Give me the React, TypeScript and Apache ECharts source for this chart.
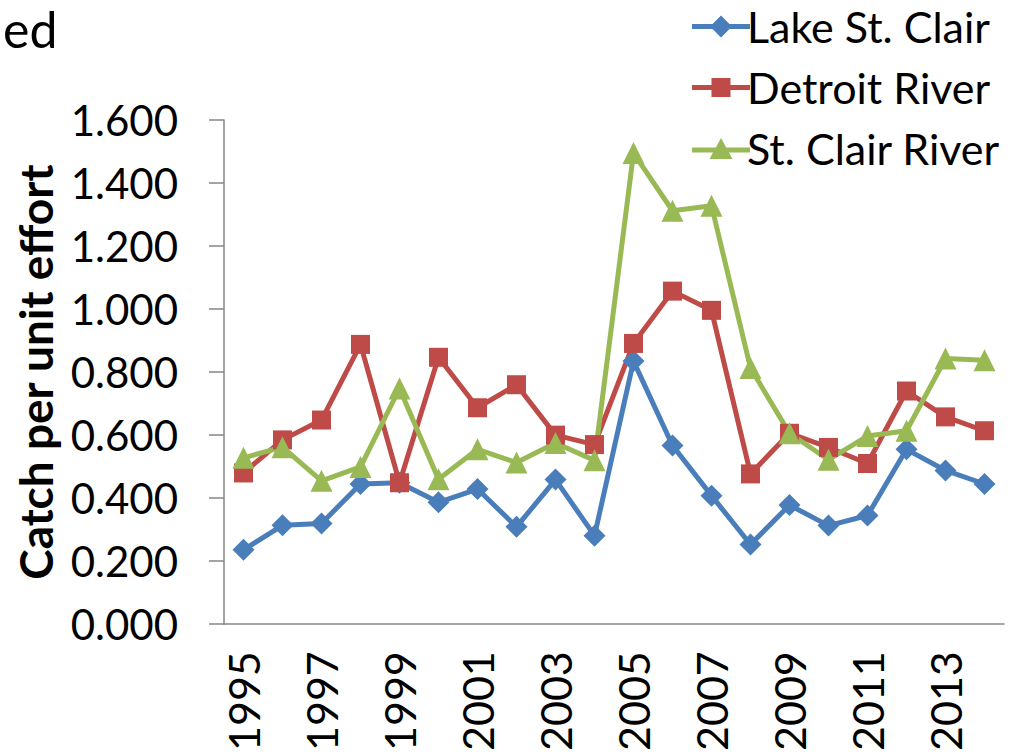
import React, { useEffect, useRef } from "react";
import * as echarts from "echarts";

const years = [
  "1995", "1996", "1997", "1998", "1999", "2000", "2001", "2002", "2003", "2004",
  "2005", "2006", "2007", "2008", "2009", "2010", "2011", "2012", "2013", "2014",
];
const lakeStClair = [
  0.236, 0.314, 0.32, 0.445, 0.449, 0.387, 0.429, 0.309, 0.459, 0.281,
  0.835, 0.567, 0.408, 0.253, 0.378, 0.313, 0.345, 0.555, 0.488, 0.445,
];
const detroitRiver = [
  0.48, 0.585, 0.648, 0.888, 0.449, 0.847, 0.687, 0.76, 0.6, 0.57,
  0.891, 1.057, 0.996, 0.477, 0.606, 0.561, 0.51, 0.74, 0.658, 0.614,
];
const stClairRiver = [
  0.528, 0.562, 0.455, 0.499, 0.748, 0.46, 0.555, 0.513, 0.575, 0.52,
  1.495, 1.312, 1.328, 0.813, 0.606, 0.522, 0.597, 0.614, 0.843, 0.838,
];
const yTicks = { min: 0, max: 1.6, interval: 0.2 };

const FONT = "Lato";

const ICON_DIAMOND = "path://M0,8.5H58V13.5H0Z M29,0L40,11L29,22L18,11Z";
const ICON_SQUARE = "path://M0,8.5H58V13.5H0Z M19.5,1.5H38.5V20.5H19.5Z";
const ICON_TRIANGLE = "path://M0,9.5H58V14.5H0Z M29,0L40.5,21L17.5,21Z";

export default function App() {
  const ref = useRef<HTMLDivElement>(null);
  useEffect(() => {
    if (!ref.current) return;
    const chart = echarts.init(ref.current, undefined, { renderer: "svg" });
    const mk = (name: string, data: number[], color: string, symbol: string, size: number) => ({
      name,
      type: "line",
      data,
      symbol,
      symbolSize: size,
      lineStyle: { color, width: 5 },
      itemStyle: { color },
      z: 3,
    });
    chart.setOption({
      animation: false,
      textStyle: { fontFamily: FONT },
      graphic: [
        {
          type: "text",
          left: 3,
          top: 4,
          style: { text: "ed", fontSize: 50, fontFamily: FONT, fill: "#000" },
        },
      ],
      legend: {
        orient: "vertical",
        left: 687,
        top: 0,
        itemWidth: 58,
        itemHeight: 22,
        itemGap: 18,
        textStyle: { fontSize: 43, color: "#000", fontFamily: FONT, padding: [0, 0, 0, -8] },
        data: [
          { name: "Lake St. Clair", icon: ICON_DIAMOND },
          { name: "Detroit River", icon: ICON_SQUARE },
          { name: "St. Clair River", icon: ICON_TRIANGLE },
        ],
      },
      grid: { left: 224, right: 15, top: 120, bottom: 126, containLabel: false },
      xAxis: {
        type: "category",
        data: years,
        boundaryGap: true,
        axisLine: { lineStyle: { color: "#868686", width: 1.5 } },
        axisTick: { interval: 0, length: 15, lineStyle: { color: "#868686", width: 1.5 } },
        axisLabel: {
          interval: 1,
          rotate: 90,
          margin: 27,
          fontSize: 43,
          color: "#000",
          fontFamily: FONT,
        },
      },
      yAxis: {
        type: "value",
        min: yTicks.min,
        max: yTicks.max,
        interval: yTicks.interval,
        name: "Catch per unit effort",
        nameLocation: "middle",
        nameRotate: 90,
        nameGap: 166,
        nameTextStyle: { fontSize: 46, fontWeight: "bold", color: "#000", fontFamily: FONT },
        axisLine: { show: true, lineStyle: { color: "#868686", width: 1.5 } },
        axisTick: { show: true, length: 15, lineStyle: { color: "#868686", width: 1.5 } },
        splitLine: { show: false },
        axisLabel: {
          margin: 46,
          fontSize: 42,
          color: "#000",
          fontFamily: FONT,
          formatter: (v: number) => v.toFixed(3),
        },
      },
      series: [
        mk("Lake St. Clair", lakeStClair, "#4A7EBB", "diamond", 22),
        mk("Detroit River", detroitRiver, "#BE4B48", "rect", 19),
        mk("St. Clair River", stClairRiver, "#98B954", "triangle", 22),
      ],
    });
    return () => chart.dispose();
  }, []);
  return <div ref={ref} style={{ width: 1019, height: 754, position: "absolute", left: 0, top: 0 }} />;
}
